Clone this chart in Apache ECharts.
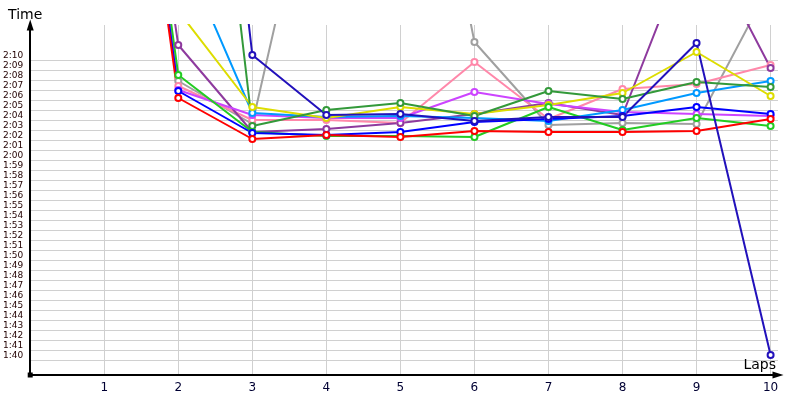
<!DOCTYPE html>
<html>
<head>
<meta charset="utf-8">
<script src="https://cdn.jsdelivr.net/npm/echarts@6/dist/echarts.min.js"></script>
<style>
html,body{margin:0;padding:0;background:#fff;}
#c{width:800px;height:400px;}
</style>
</head>
<body>
<div id="c"></div>
<script>
// Lap numbers (x) and lap times in seconds (y)
var laps = [1, 2, 3, 4, 5, 6, 7, 8, 9, 10];
var lapTicks = [1, 2, 3, 4, 5, 6, 7, 8, 9, 10];
var timeTicks = [100,101,102,103,104,105,106,107,108,109,110,111,112,113,114,115,116,117,118,119,120,121,122,123,124,125,126,127,128,129,130];

var red       = [180, 126.2, 122.1, 122.5, 122.3, 122.9, 122.8, 122.8, 122.9, 124.1];
var blue      = [181, 126.9, 122.7, 122.5, 122.8, 123.8, 124.1, 124.4, 125.3, 124.6];
var green     = [182, 128.5, 122.8, 122.4, 122.4, 122.3, 125.3, 123.0, 124.2, 123.4];
var darkGreen = [200, 187.0, 123.4, 125.0, 125.7, 124.4, 126.9, 126.1, 127.8, 127.3];
var yellow    = [190, 134.9, 125.3, 124.2, 125.3, 124.6, 125.5, 126.7, 130.8, 126.4];
var sky       = [195, 141.8, 124.7, 124.3, 124.4, 124.2, 123.9, 125.0, 126.7, 127.9];
var violet    = [181, 127.0, 124.5, 124.2, 124.2, 126.8, 125.6, 124.8, 124.6, 124.4];
var purple    = [181, 131.5, 122.8, 123.1, 123.7, 124.6, 125.7, 124.5, 143.4, 129.2];
var pink      = [181, 127.4, 124.0, 124.0, 123.7, 129.8, 124.1, 127.1, 127.6, 129.5];
var gray      = [181, 127.9, 123.6, 156.0, 169.0, 131.8, 123.5, 123.7, 123.6, 137.6];
var navy      = [200, 195.0, 130.5, 124.5, 124.6, 123.9, 124.3, 124.3, 131.7, 100.5];

var seriesDefs = [
  {name: 'gray', data: gray, color: '#a0a0a0'},
  {name: 'pink', data: pink, color: '#ff88aa'},
  {name: 'purple', data: purple, color: '#8e3a9e'},
  {name: 'violet', data: violet, color: '#cc44ff'},
  {name: 'sky', data: sky, color: '#0099ff'},
  {name: 'yellow', data: yellow, color: '#dddd00'},
  {name: 'darkGreen', data: darkGreen, color: '#33993a'},
  {name: 'green', data: green, color: '#22cc22'},
  {name: 'blue', data: blue, color: '#0000ff'},
  {name: 'red', data: red, color: '#ff0000'},
  {name: 'navy', data: navy, color: '#2211bb'}
];

function fmt(v) {
  var m = Math.floor(v / 60), s = Math.round(v - m * 60);
  return m + ':' + (s < 10 ? '0' + s : s);
}

var chart = echarts.init(document.getElementById('c'), null, {renderer: 'canvas'});
chart.setOption({
  animation: false,
  backgroundColor: '#fff',
  grid: {left: 30, right: 22, top: 25, bottom: 25, containLabel: false},
  xAxis: {
    type: 'value', min: 0, max: 10.1,
    name: 'Laps', nameLocation: 'end', nameGap: -2,
    nameTextStyle: {fontFamily: 'DejaVu Sans', fontSize: 14, color: '#000', align: 'right', verticalAlign: 'bottom', padding: [0, 0, 3, 0]},
    axisLine: {show: true, symbol: ['none', 'triangle'], symbolSize: [7, 11], lineStyle: {color: '#000', width: 2}},
    axisTick: {show: false, customValues: lapTicks},
    axisLabel: {customValues: lapTicks, fontFamily: 'DejaVu Sans', fontSize: 12, color: '#000033', margin: 7},
    splitLine: {show: true, lineStyle: {color: '#d0d0d0', width: 1}}
  },
  yAxis: {
    type: 'value', min: 98.5, max: 133.5,
    name: 'Time', nameLocation: 'end', nameGap: 10,
    nameTextStyle: {fontFamily: 'DejaVu Sans', fontSize: 14, color: '#000', align: 'center', verticalAlign: 'middle', padding: [0, 10, 0, 0]},
    axisLine: {show: true, symbol: ['none', 'triangle'], symbolSize: [7, 11], lineStyle: {color: '#000', width: 2}},
    axisTick: {show: false, customValues: timeTicks},
    axisLabel: {customValues: timeTicks, formatter: fmt, fontFamily: 'DejaVu Sans', fontSize: 9, color: '#220000', margin: 7, verticalAlign: 'bottom'},
    splitLine: {show: true, lineStyle: {color: '#d0d0d0', width: 1}}
  },
  series: seriesDefs.map(function (d) {
    return {
      name: d.name,
      type: 'line',
      data: laps.map(function (l, i) { return [l, d.data[i]]; }),
      symbol: 'emptyCircle',
      symbolSize: 6,
      showAllSymbol: true,
      clip: true,
      itemStyle: {color: d.color, borderWidth: 1},
      lineStyle: {color: d.color, width: 2}
    };
  })
});
var o = chart.convertToPixel({gridIndex: 0}, [0, 98.5]);
chart.setOption({graphic: [{type: 'rect', shape: {x: o[0] - 2.5, y: o[1] - 2.5, width: 5, height: 5}, style: {fill: '#000'}, z: 100}]});
</script>
</body>
</html>
